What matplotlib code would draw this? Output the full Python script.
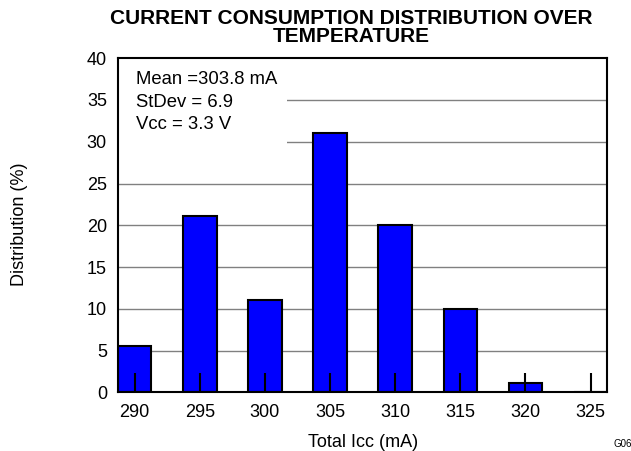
import matplotlib
matplotlib.use("Agg")
import matplotlib.pyplot as plt
from matplotlib.patches import Rectangle

plt.rcParams['font.family'] = ['Liberation Sans', 'DejaVu Sans']

categories = [290, 295, 300, 305, 310, 315, 320, 325]
values = [5.6, 21.1, 11.1, 31.1, 20.0, 10.0, 1.1, 0.0]
yticks = [0, 5, 10, 15, 20, 25, 30, 35, 40]
title = "CURRENT CONSUMPTION DISTRIBUTION OVER\nTEMPERATURE"
stats_lines = ["Mean =303.8 mA", "StDev = 6.9", "Vcc = 3.3 V"]

fig = plt.figure(figsize=(6.31, 4.51), dpi=100)
ax = fig.add_axes([0.187, 0.130, 0.7754, 0.741])

ax.set_xlim(288.72, 326.28)
ax.set_ylim(0, 40)

for yv in yticks[1:-1]:
    ax.axhline(yv, color='#808080', lw=1.0, zorder=0.5)

# white box behind annotation
ax.add_patch(Rectangle((288.72, 27.6), 301.7 - 288.72, 40 - 27.6,
                       facecolor='white', edgecolor='none', zorder=0.7))

ax.bar(categories, values, width=2.58, color='#0000ff', edgecolor='black',
       linewidth=1.5, zorder=1)

fs = 13
ax.set_axisbelow(False)
ax.set_xticks(categories)
ax.set_xticklabels([str(c) for c in categories], fontsize=fs)
ax.set_yticks(yticks)
ax.set_yticklabels([str(y) for y in yticks], fontsize=fs)
ax.tick_params(axis='x', direction='in', length=13.5, width=1.5, pad=8.5)
ax.tick_params(axis='y', length=0, pad=8)
for s in ax.spines.values():
    s.set_linewidth(1.5)

ax.set_xlabel("Total Icc (mA)", fontsize=fs, labelpad=9)
fig.text(20 / 631, 1 - 224 / 451, "Distribution (%)", fontsize=fs,
         rotation=90, ha='center', va='center')

tl = title.split("\n")
fig.text(351 / 631, 1 - 18 / 451, tl[0], fontsize=15,
         fontweight='bold', ha='center', va='center')
fig.text(351 / 631, 1 - 37 / 451, tl[1], fontsize=15,
         fontweight='bold', ha='center', va='center')

for i, line in enumerate(stats_lines):
    ax.text(0.037, 0.936 - i * 0.0674, line, transform=ax.transAxes,
            fontsize=13.3, va='center', ha='left')

fig.text(614 / 631, 1 - 444 / 451, "G06", fontsize=7, ha='left', va='center')

fig.savefig("out.png", dpi=100)
